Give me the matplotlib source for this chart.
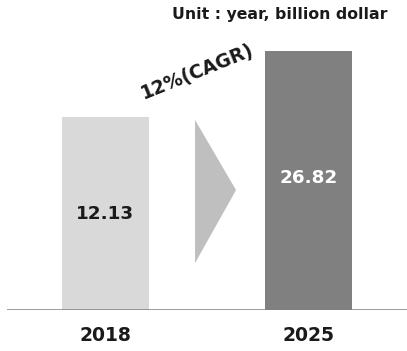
import matplotlib
matplotlib.use("Agg")
import matplotlib.pyplot as plt
from matplotlib.patches import Polygon

plt.rcParams['font.family'] = ['DejaVu Sans']

years = ['2018', '2025']
values = [12.13, 26.82]
# drawn heights (the source chart is not to scale)
bar_heights = [0.745, 1.0]
bar_colors = ['#d9d9d9', '#808080']
label_colors = ['#1a1a1a', '#ffffff']
cagr_text = '12%(CAGR)'
unit_text = 'Unit : year, billion dollar'

fig = plt.figure(figsize=(4.07, 3.51), dpi=100)
ax = fig.add_axes([7 / 407, 41 / 351, 400 / 407, 310 / 351])

x = list(range(len(years)))
ax.bar(x, bar_heights, width=0.43, color=bar_colors, zorder=2)
ax.set_xlim(-0.485, 1.485)
ax.set_ylim(0, 1.197)

for xi, h, v, c in zip(x, bar_heights, values, label_colors):
    ypos = 0.37 if xi == 0 else 0.51
    ax.text(xi, ypos, f'{v:.2f}', ha='center', va='center',
            fontsize=13.2, fontweight='bold', color=c, zorder=3)
    ax.text(xi, -0.1, years[xi], ha='center', va='center',
            fontsize=13.5, fontweight='bold', color='#1a1a1a', clip_on=False)

# arrow between the bars
tri = Polygon([[0.441, 0.181], [0.441, 0.734], [0.643, 0.463]],
              closed=True, facecolor='#bfbfbf', edgecolor='none', zorder=2)
ax.add_patch(tri)

ax.text(0.455, 0.92, cagr_text, ha='center', va='center', rotation=22,
        fontsize=13.5, fontweight='bold', color='#1a1a1a')

fig.text(280 / 407, 1 - 15 / 351, unit_text, ha='center', va='center',
         fontsize=11.3, fontweight='bold', color='#1a1a1a')

ax.axhline(0, color='#7f7f7f', linewidth=1.8, zorder=3)
for s in ax.spines.values():
    s.set_visible(False)
ax.set_xticks([])
ax.set_yticks([])

fig.savefig('out.png', dpi=100)
